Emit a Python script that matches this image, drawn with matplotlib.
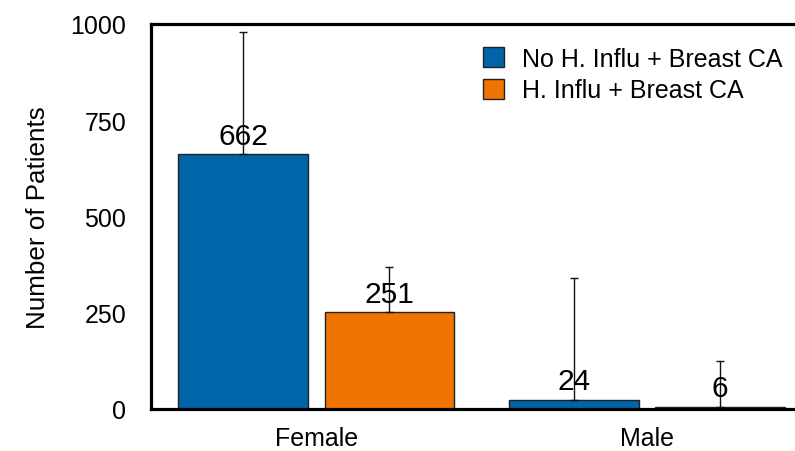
import numpy as np
import matplotlib
matplotlib.use("Agg")
import matplotlib.pyplot as plt

plt.rcParams["font.family"] = ["Liberation Sans", "DejaVu Sans"]

# data
groups = ["Female", "Male"]
series_names = ["No H. Influ + Breast CA", "H. Influ + Breast CA"]
no_hinflu = [662, 24]
hinflu = [251, 6]
no_hinflu_err = [317, 316]
hinflu_err = [118, 119]
y_ticks = [0, 250, 500, 750, 1000]

colors = ["#0064A8", "#F07400"]

fig = plt.figure(figsize=(7.95, 4.52), dpi=100)
ax = fig.add_axes([0.19, 0.093, 0.832, 0.852])

x = np.arange(len(groups))
width = 0.393
offset = 0.221

all_vals = [no_hinflu, hinflu]
all_errs = [no_hinflu_err, hinflu_err]

for i, (vals, errs) in enumerate(zip(all_vals, all_errs)):
    pos = x + (i * 2 - 1) * offset
    ax.bar(pos, vals, width, color=colors[i], edgecolor="#222222",
           linewidth=1.0, label=series_names[i], zorder=2)
    ax.errorbar(pos, vals, yerr=[np.zeros(len(vals)), errs], fmt="none",
                ecolor="#111111", elinewidth=1.0, capsize=3.0,
                capthick=1.0, zorder=3)
    for p, v in zip(pos, vals):
        ax.annotate(str(v), (p, v), xytext=(0, 7.5), textcoords="offset points",
                    ha="center", va="baseline", fontsize=21.5, zorder=4)

ax.set_xlim(-0.5, 1.5)
ax.set_ylim(0, 1000)
ax.set_yticks(y_ticks)
ax.set_xticks(x)
ax.set_xticklabels(groups)
ax.tick_params(axis="both", length=0, labelsize=18)
ax.tick_params(axis="x", pad=12)
ax.tick_params(axis="y", pad=18)
ax.set_ylabel("Number of Patients", fontsize=18.7)
ax.yaxis.set_label_coords(-0.153, 0.5)

for side in ["left", "right", "top", "bottom"]:
    ax.spines[side].set_linewidth(2.3)
    ax.spines[side].set_color("black")

ax.legend(loc="upper left", bbox_to_anchor=(0.6075, 0.894),
          bbox_transform=fig.transFigure, frameon=False, fontsize=18,
          borderpad=0, borderaxespad=0, handlelength=0.85, handleheight=0.85,
          handletextpad=0.7, labelspacing=0.3)

fig.savefig("out.png", dpi=100)
